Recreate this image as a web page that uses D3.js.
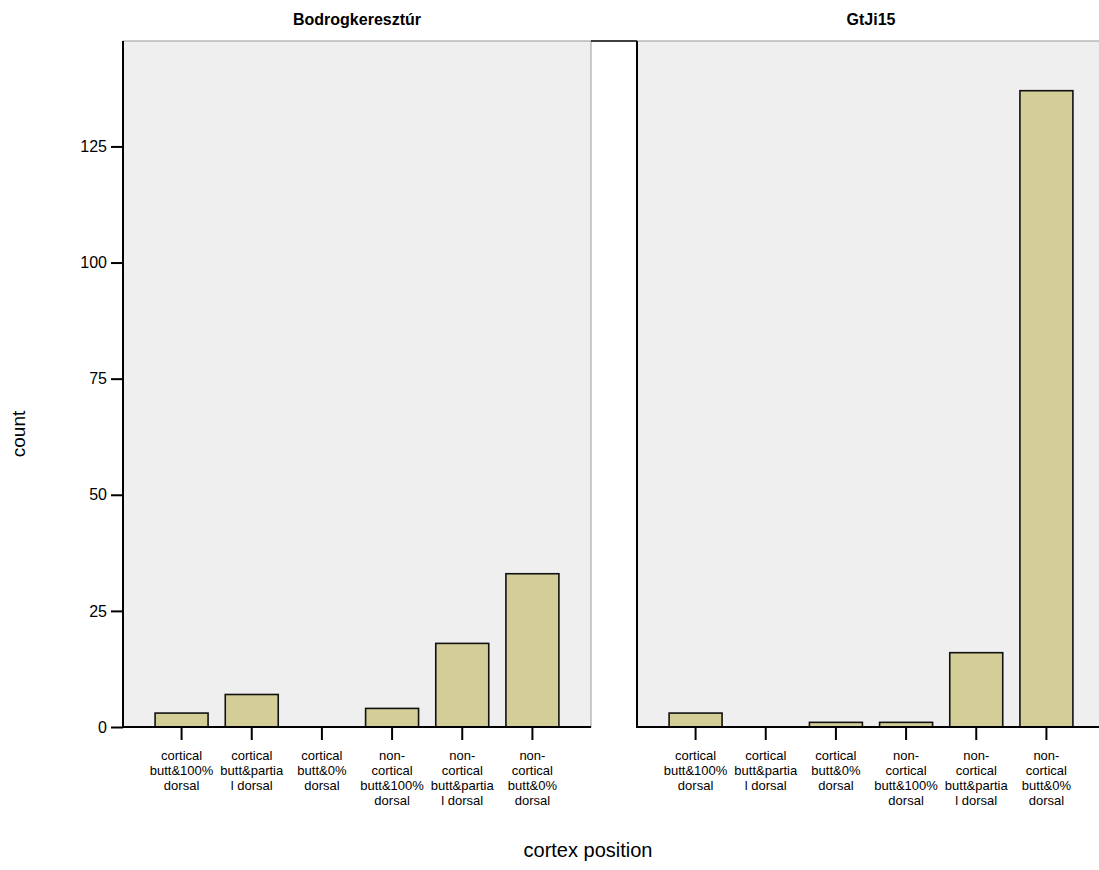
<!DOCTYPE html>
<html>
<head>
<meta charset="utf-8">
<script src="https://cdn.jsdelivr.net/npm/d3@7"></script>
<style>
  html, body { margin: 0; padding: 0; background: #ffffff; }
  svg { display: block; }
  text { font-family: Arial, "Liberation Sans", sans-serif; fill: #000; }
</style>
</head>
<body>
<svg id="chart" width="1099" height="870"></svg>
<script>
// ---- data ----
const categories = [
  "cortical butt&100% dorsal",
  "cortical butt&partial dorsal",
  "cortical butt&0% dorsal",
  "non-cortical butt&100% dorsal",
  "non-cortical butt&partial dorsal",
  "non-cortical butt&0% dorsal"
];
const categoryLabelLines = [
  ["cortical", "butt&100%", "dorsal"],
  ["cortical", "butt&partia", "l dorsal"],
  ["cortical", "butt&0%", "dorsal"],
  ["non-", "cortical", "butt&100%", "dorsal"],
  ["non-", "cortical", "butt&partia", "l dorsal"],
  ["non-", "cortical", "butt&0%", "dorsal"]
];
const panelTitles = ["Bodrogkeresztúr", "GtJi15"];
const bodrogkereszturCounts = [3, 7, 0, 4, 18, 33];
const gtji15Counts = [3, 0, 1, 1, 16, 137];
const yTicks = [0, 25, 50, 75, 100, 125];
const yMax = 147.7;
const yTitle = "count";
const xTitle = "cortex position";

const panels = [
  { title: panelTitles[0], values: bodrogkereszturCounts },
  { title: panelTitles[1], values: gtji15Counts }
];

// ---- layout ----
const svg = d3.select("#chart");
const plotTop = 41, plotBottom = 727;
const panelW = 468;
const panelX = [123, 637];
const inset = 23.5;

const y = d3.scaleLinear().domain([0, yMax]).range([plotBottom, plotTop]);

const barFill = "#d3ce97";
const bgFill = "#efefef";

panels.forEach((p, i) => {
  const x0 = panelX[i];
  const g = svg.append("g");
  const x = d3.scaleBand()
    .domain(categories)
    .range([x0 + inset, x0 + panelW - inset])
    .paddingInner(0.245)
    .paddingOuter(0.1225);

  // background
  g.append("rect")
    .attr("x", x0).attr("y", plotTop)
    .attr("width", panelW).attr("height", plotBottom - plotTop)
    .attr("fill", bgFill)
    .attr("stroke", "#9a9a9a").attr("stroke-width", 1);

  // bars
  g.selectAll("rect.bar")
    .data(p.values.map((v, k) => ({ c: categories[k], v })))
    .join("rect")
    .attr("class", "bar")
    .attr("x", d => x(d.c))
    .attr("y", d => y(d.v))
    .attr("width", x.bandwidth())
    .attr("height", d => plotBottom - y(d.v))
    .attr("fill", barFill)
    .attr("stroke", "#111")
    .attr("stroke-width", 1.6);

  // x axis ticks
  const xAxis = d3.axisBottom(x).tickSize(13).tickFormat("");
  const xa = g.append("g").attr("transform", `translate(0,${plotBottom})`).call(xAxis);
  xa.select(".domain").remove();
  xa.selectAll(".tick line").attr("stroke", "#000").attr("stroke-width", 2);

  // x tick labels (multi-line)
  categories.forEach((c, k) => {
    const cx = x(c) + x.bandwidth() / 2;
    const t = g.append("text")
      .attr("x", cx)
      .attr("text-anchor", "middle")
      .style("font-size", "13px");
    categoryLabelLines[k].forEach((line, j) => {
      t.append("tspan")
        .attr("x", cx)
        .attr("y", 760 + j * 15)
        .text(line);
    });
  });

  // baseline
  g.append("line")
    .attr("x1", x0).attr("x2", x0 + panelW)
    .attr("y1", plotBottom).attr("y2", plotBottom)
    .attr("stroke", "#000").attr("stroke-width", 2);
  // left axis line
  g.append("line")
    .attr("x1", x0).attr("x2", x0)
    .attr("y1", plotTop).attr("y2", plotBottom + 1)
    .attr("stroke", "#000").attr("stroke-width", 2);

  // title
  g.append("text")
    .attr("x", x0 + panelW / 2)
    .attr("y", 25)
    .attr("text-anchor", "middle")
    .style("font-size", "16px")
    .style("font-weight", "bold")
    .text(p.title);
});

// black top connector between panels
svg.append("line")
  .attr("x1", panelX[0] + panelW).attr("x2", panelX[1])
  .attr("y1", plotTop).attr("y2", plotTop)
  .attr("stroke", "#000").attr("stroke-width", 1.5);

// y axis on left panel
const yAxis = d3.axisLeft(y).tickValues(yTicks).tickSize(12).tickPadding(4);
const ya = svg.append("g").attr("transform", `translate(${panelX[0]},0)`).call(yAxis);
ya.select(".domain").remove();
ya.selectAll(".tick line").attr("stroke", "#000").attr("stroke-width", 2);
ya.selectAll(".tick text")
  .style("font-size", "16px")
  .style("font-family", "Arial, 'Liberation Sans', sans-serif");

// axis titles
svg.append("text")
  .attr("transform", "translate(25,434) rotate(-90)")
  .attr("text-anchor", "middle")
  .style("font-size", "19px")
  .text(yTitle);

svg.append("text")
  .attr("x", 588).attr("y", 857)
  .attr("text-anchor", "middle")
  .style("font-size", "20px")
  .text(xTitle);
</script>
</body>
</html>
